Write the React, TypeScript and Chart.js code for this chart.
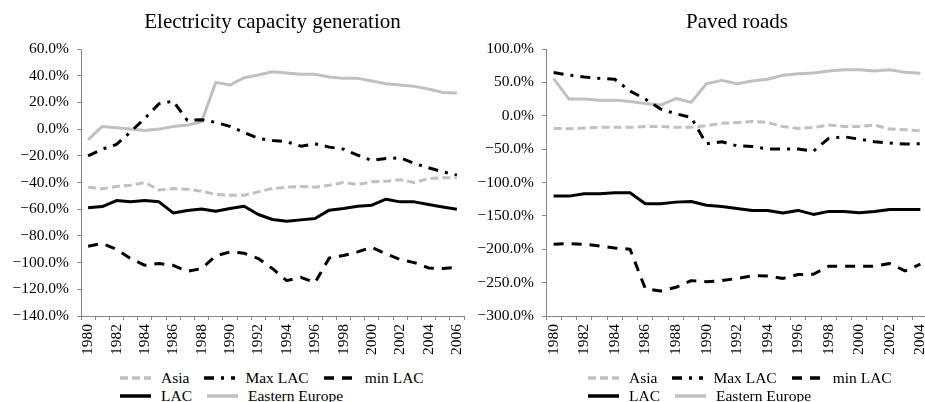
import React, { useEffect, useRef } from 'react';
import { Chart, registerables } from 'chart.js';

Chart.register(...registerables);

// ---------- data ----------
const yearsElec = ['1980','1981','1982','1983','1984','1985','1986','1987','1988','1989','1990','1991','1992','1993','1994','1995','1996','1997','1998','1999','2000','2001','2002','2003','2004','2005','2006'];
const elecAsia = [-43.5, -44.7, -43, -42, -40, -45.7, -44.5, -45, -46.5, -49, -49.5, -49.5, -47, -44.5, -43.5, -43, -43.5, -42, -40, -41.5, -39.5, -39, -38, -40, -37, -36.5, -36.5];
const elecMaxLAC = [-20, -15, -11.5, -2, 8, 19, 21, 6.5, 7, 5, 2, -2.5, -7, -8.5, -9.5, -12.8, -11, -13.5, -15, -19.5, -23.5, -22, -21.5, -25.7, -29, -32, -34.5];
const elecMinLAC = [-87.7, -85.7, -90, -97, -102, -100.7, -102, -106.5, -104.5, -95, -92, -93, -97, -104.5, -113.5, -111, -115, -96.5, -94.7, -92, -88.5, -93.5, -97.7, -100, -104, -104.5, -103.5];
const elecLAC = [-59, -58, -53.5, -54.5, -53.5, -54.5, -62.8, -61, -59.8, -61.5, -59.5, -57.8, -64, -67.7, -69, -68, -67, -60.7, -59.5, -57.8, -57, -52.5, -54.5, -54.5, -56.5, -58.3, -60];
const elecEE = [-8, 2, 1, 0, -1, 0, 2, 3, 5.5, 35, 33, 38.5, 40.5, 43, 42, 41, 41, 39, 38, 38, 36, 34, 33, 32, 30, 27.5, 27];

const yearsRoads = ['1980','1981','1982','1983','1984','1985','1986','1987','1988','1989','1990','1991','1992','1993','1994','1995','1996','1997','1998','1999','2000','2001','2002','2003','2004'];
const roadsAsia = [-19, -19.5, -18.5, -17.4, -17.4, -17.4, -16, -16, -17.4, -17.4, -15, -11.4, -10, -8.5, -10, -16, -19, -17.4, -14, -16, -16, -14, -20, -21, -22.4];
const roadsMaxLAC = [64.7, 61, 58, 56, 54.7, 37, 25, 10, 3, -2.5, -42, -39, -45, -46, -49.7, -49.7, -49.7, -53, -34, -31.5, -35, -39, -41, -42.5, -42];
const roadsMinLAC = [-192.5, -191.5, -192.5, -195, -198, -200, -259, -262.7, -257, -247, -248.7, -247, -243.7, -239.8, -240, -243.7, -237.8, -237.5, -225.4, -225.4, -225.4, -225.4, -221.4, -232.4, -222.4];
const roadsLAC = [-120.4, -120.4, -117, -117, -115.4, -115.4, -131.8, -131.8, -129.4, -128.4, -134, -135.8, -139, -141.8, -141.8, -145.8, -141.8, -147.8, -143.3, -143.3, -145.3, -143.3, -140.3, -140.3, -140.3];
const roadsEE = [55.7, 25, 25, 23.4, 23.4, 21.4, 18.4, 16, 25.8, 20, 48, 53, 48, 52, 54.7, 60.7, 63, 64, 67, 69, 69, 67, 69, 65, 63.7];

const seriesNames = ['Asia', 'Max LAC', 'min LAC', 'LAC', 'Eastern Europe'];

// ---------- styles ----------
const FONT = '"Liberation Serif", "Times New Roman", serif';
const GRAY = '#c0c0c0';
const AXIS = '#868686';
const styles: Record<string, { color: string; dash: number[] }> = {
  'Asia': { color: GRAY, dash: [8, 4] },
  'Max LAC': { color: '#000', dash: [10, 7, 3, 7] },
  'min LAC': { color: '#000', dash: [10, 8] },
  'LAC': { color: '#000', dash: [] },
  'Eastern Europe': { color: GRAY, dash: [] },
};

function fmtPct(v: number) {
  const s = Math.abs(v).toFixed(1) + '%';
  return v < 0 ? '\u2212' + s : s;
}

function makeConfig(title: string, labels: string[], data: number[][], min: number, max: number, step: number, yWidth: number, padRight: number): any {
  return {
    type: 'line',
    data: {
      labels,
      datasets: seriesNames.map((name, i) => ({
        label: name,
        data: data[i],
        borderColor: styles[name].color,
        backgroundColor: styles[name].color,
        borderDash: styles[name].dash,
        borderWidth: 3,
        borderCapStyle: 'butt',
        borderJoinStyle: 'round',
        pointRadius: 0,
        pointHoverRadius: 0,
        tension: 0,
        fill: false,
      })),
    },
    options: {
      responsive: false,
      animation: false,
      events: [],
      layout: { padding: { left: 0, right: padRight, top: 0, bottom: 0 } },
      plugins: {
        legend: { display: false },
        tooltip: { enabled: false },
        title: {
          display: true,
          text: title,
          fullSize: false,
          color: '#000',
          font: { family: FONT, size: 21, weight: 'normal' },
          padding: { top: 10, bottom: 13.8 },
        },
      },
      scales: {
        x: {
          type: 'category',
          offset: true,
          afterFit: (s: any) => { s.height = 44; s.paddingLeft = 0; s.paddingRight = 0; },
          border: { display: true, color: AXIS, width: 1 },
          grid: { display: true, offset: true, drawOnChartArea: false, drawTicks: true, tickLength: 4, color: AXIS },
          ticks: {
            autoSkip: false,
            maxRotation: 90,
            minRotation: 90,
            padding: 4,
            color: '#000',
            font: { family: FONT, size: 15.5 },
            callback: (_v: any, i: number) => (i % 2 === 0 ? labels[i] : ''),
          },
        },
        y: {
          min,
          max,
          afterFit: (s: any) => { s.width = yWidth; },
          border: { display: true, color: AXIS, width: 1 },
          grid: { display: true, drawOnChartArea: false, drawTicks: true, tickLength: 4, color: AXIS },
          ticks: {
            stepSize: step,
            padding: 8,
            color: '#000',
            font: { family: FONT, size: 15.5 },
            callback: (v: any) => fmtPct(Number(v)),
          },
        },
      },
    },
  };
}

function LineChart(props: { config: any; left: number; width: number; height: number }) {
  const ref = useRef<HTMLCanvasElement | null>(null);
  useEffect(() => {
    if (!ref.current) return;
    const chart = new Chart(ref.current, props.config);
    return () => chart.destroy();
  }, []);
  return (
    <canvas
      ref={ref}
      width={props.width}
      height={props.height}
      style={{ position: 'absolute', left: props.left, top: 0, width: props.width, height: props.height }}
    />
  );
}

function LegendSample({ name }: { name: string }) {
  const st = styles[name];
  return (
    <svg width={31} height={6} style={{ display: 'block' }}>
      <line x1={0} y1={3} x2={31} y2={3} stroke={st.color} strokeWidth={3.5}
        strokeDasharray={st.dash.length ? st.dash.join(' ') : undefined} />
    </svg>
  );
}

function Legend({ left }: { left: number }) {
  return (
    <div style={{ position: 'absolute', left, top: 369, width: 340, display: 'flex', flexWrap: 'wrap' }}>
      {seriesNames.map((n) => (
        <div key={n} style={{ display: 'flex', alignItems: 'center', height: 18, marginRight: 15 }}>
          <LegendSample name={n} />
          <span style={{ marginLeft: 10, fontFamily: FONT, fontSize: 15.5, lineHeight: '18px', color: '#000', whiteSpace: 'nowrap' }}>{n}</span>
        </div>
      ))}
    </div>
  );
}

export default function App() {
  const cfg1 = makeConfig('Electricity capacity generation', yearsElec,
    [elecAsia, elecMaxLAC, elecMinLAC, elecLAC, elecEE], -140, 60, 20, 81, 6);
  const cfg2 = makeConfig('Paved roads', yearsRoads,
    [roadsAsia, roadsMaxLAC, roadsMinLAC, roadsLAC, roadsEE], -300, 100, 50, 80, 2);
  return (
    <div style={{ position: 'fixed', left: 0, top: 0, width: 925, height: 402, overflow: 'hidden', background: '#fff' }}>
      <LineChart config={cfg1} left={0} width={470} height={360} />
      <LineChart config={cfg2} left={466} width={464} height={360} />
      <Legend left={120} />
      <Legend left={588} />
    </div>
  );
}
